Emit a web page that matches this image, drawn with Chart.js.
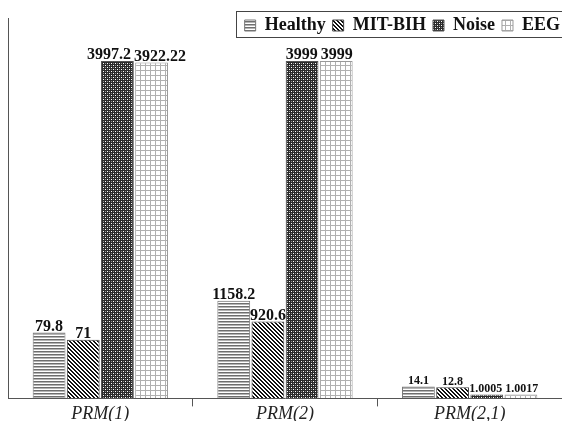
<!DOCTYPE html>
<html><head><meta charset="utf-8">
<script src="https://cdn.jsdelivr.net/npm/chart.js@4.4.1/dist/chart.umd.min.js"></script>
<style>html,body{margin:0;padding:0;background:#fff;overflow:hidden;}</style>
</head><body>
<canvas id="c" width="562" height="421"></canvas>
<script>
// ---- data ----
const categories = ['PRM(1)', 'PRM(2)', 'PRM(2,1)'];
const seriesNames = ['Healthy', 'MIT-BIH', 'Noise', 'EEG'];
const healthy = [79.8, 1158.2, 14.1];
const mitBih  = [71, 920.6, 12.8];
const noise   = [3997.2, 3999, 1.0005];
const eeg     = [3922.22, 3999, 1.0017];

// ---- the original figure uses a segmented (non-linear) value axis ----
const axisStopValues    = [0, 1, 14.1, 79.8, 920.6, 1158.2, 3922, 4000, 4500];
const axisStopFractions = [0, 0.0105, 0.0315, 0.173, 0.202, 0.257, 0.883, 0.887, 1];
const labelFontSizes = [16, 16, 12];

function valueToFraction(v) {
  const V = axisStopValues, F = axisStopFractions;
  if (v <= V[0]) return F[0];
  for (let i = 1; i < V.length; i++) {
    if (v <= V[i]) return F[i-1] + (v - V[i-1]) / (V[i] - V[i-1]) * (F[i] - F[i-1]);
  }
  return F[F.length-1];
}
function fractionToValue(f) {
  const V = axisStopValues, F = axisStopFractions;
  if (f <= F[0]) return V[0];
  for (let i = 1; i < F.length; i++) {
    if (f <= F[i]) return V[i-1] + (f - F[i-1]) / (F[i] - F[i-1]) * (V[i] - V[i-1]);
  }
  return V[V.length-1];
}
class SegmentedScale extends Chart.LinearScale {
  getPixelForValue(value) {
    if (value === null || value === undefined || isNaN(value)) return NaN;
    return this.getPixelForDecimal(valueToFraction(value));
  }
  getValueForPixel(pixel) {
    return fractionToValue(this.getDecimalForPixel(pixel));
  }
}
SegmentedScale.id = 'segmented';
SegmentedScale.defaults = {};
Chart.register(SegmentedScale);

// ---- patterns ----
function makePattern(w, h, draw) {
  const c = document.createElement('canvas');
  c.width = w; c.height = h;
  const g = c.getContext('2d');
  g.fillStyle = '#fff'; g.fillRect(0, 0, w, h);
  draw(g, w, h);
  return document.getElementById('c').getContext('2d').createPattern(c, 'repeat');
}
const patHealthy = makePattern(4, 3, (g, w) => {
  g.fillStyle = '#6e6e6e'; g.fillRect(0, 0, w, 1);
  g.fillStyle = '#b4b4b4'; g.fillRect(0, 1, w, 1);
});
const patMit = makePattern(4, 4, (g) => {
  g.fillStyle = '#111';
  for (let y = 0; y < 4; y++) for (let x = 0; x < 4; x++) {
    const d = ((x - y) % 4 + 4) % 4;
    if (d === 0 || d === 1) g.fillRect(x, y, 1, 1);
  }
});
const patNoise = makePattern(4, 4, (g) => {
  g.fillStyle = '#2a2a2a'; g.fillRect(0, 0, 4, 4);
  g.fillStyle = '#fff'; g.fillRect(1, 1, 1, 1); g.fillRect(3, 3, 1, 1);
  g.fillStyle = '#8a8a8a'; g.fillRect(3, 1, 1, 1); g.fillRect(1, 3, 1, 1);
});
const patEeg = makePattern(5, 5, (g) => {
  g.fillStyle = '#b0b0b0'; g.fillRect(0, 0, 5, 1); g.fillRect(0, 0, 1, 5);
});

// ---- plugins ----
const legendPlacer = {
  id: 'legendPlacer',
  afterLayout(chart) {
    const lg = chart.legend;
    if (!lg) return;
    lg.right = 567; lg.left = 150;
    lg.top = 9.5; lg.bottom = 60;
  }
};
const legendFrame = {
  id: 'legendFrame',
  afterDraw(chart) {
    const lg = chart.legend;
    if (!lg || !lg.lineWidths) return;
    const ctx = chart.ctx;
    const start = lg.right - lg.lineWidths[0];
    ctx.save();
    ctx.strokeStyle = '#444'; ctx.lineWidth = 1;
    ctx.strokeRect(Math.round(start - 9) + 0.5, 11.5, 600, 26);
    ctx.restore();
  }
};
const valueLabels = {
  id: 'valueLabels',
  afterDatasetsDraw(chart) {
    const ctx = chart.ctx;
    ctx.save();
    chart.data.labels.forEach((lab, i) => {
      const size = labelFontSizes[i];
      ctx.font = 'bold ' + size + 'px "Liberation Serif"';
      const items = [];
      chart.data.datasets.forEach((ds, di) => {
        const bar = chart.getDatasetMeta(di).data[i];
        const text = String(ds.data[i]);
        items.push({ x: bar.x, y: bar.y - 2, w: ctx.measureText(text).width, text });
      });
      items.sort((a, b) => a.x - b.x);
      for (let k = 1; k < items.length; k++) {
        const a = items[k-1], b = items[k];
        if (Math.abs(a.y - b.y) < size) {
          const ov = (a.x + a.w / 2 + 3) - (b.x - b.w / 2);
          if (ov > 0) { a.x -= ov / 2; b.x += ov / 2; }
        }
      }
      ctx.fillStyle = '#111';
      ctx.textAlign = 'center';
      ctx.textBaseline = 'alphabetic';
      items.forEach(it => ctx.fillText(it.text, it.x, it.y));
    });
    ctx.restore();
  }
};

const seriesValues = [healthy, mitBih, noise, eeg];
const seriesFills = [patHealthy, patMit, patNoise, patEeg];
const seriesBorders = ['#777', '#444', '#555', '#999'];

new Chart(document.getElementById('c'), {
  type: 'bar',
  data: {
    labels: categories,
    datasets: seriesNames.map((name, i) => ({
      label: name,
      data: seriesValues[i],
      backgroundColor: seriesFills[i],
      borderColor: seriesBorders[i],
      borderWidth: 1,
      categoryPercentage: 0.74,
      barPercentage: 0.96
    }))
  },
  options: {
    responsive: false,
    animation: false,
    devicePixelRatio: 1,
    layout: { padding: { left: 8, right: -1, top: 0, bottom: -1 } },
    plugins: {
      tooltip: { enabled: false },
      legend: {
        position: 'top',
        align: 'end',
        maxHeight: 18,
        labels: {
          font: { family: 'Liberation Serif', weight: 'bold', size: 18 },
          color: '#111',
          boxWidth: 11,
          boxHeight: 11,
          padding: 7
        }
      }
    },
    scales: {
      x: {
        type: 'category',
        offset: true,
        grid: {
          display: true,
          offset: true,
          drawOnChartArea: false,
          drawTicks: true,
          tickLength: 8,
          color: (c) => c.index === 0 ? 'rgba(0,0,0,0)' : '#555'
        },
        border: { display: true, color: '#555', width: 1 },
        ticks: {
          font: { family: 'Liberation Serif', style: 'italic', size: 18 },
          color: '#222',
          padding: -3,
          maxRotation: 0,
          autoSkip: false
        }
      },
      y: {
        type: 'segmented',
        min: 0,
        max: 4500,
        ticks: { display: false },
        grid: { display: true, drawOnChartArea: false, drawTicks: false },
        border: { display: true, color: '#555', width: 1 }
      }
    }
  },
  plugins: [legendPlacer, legendFrame, valueLabels]
});
</script>
</body></html>
